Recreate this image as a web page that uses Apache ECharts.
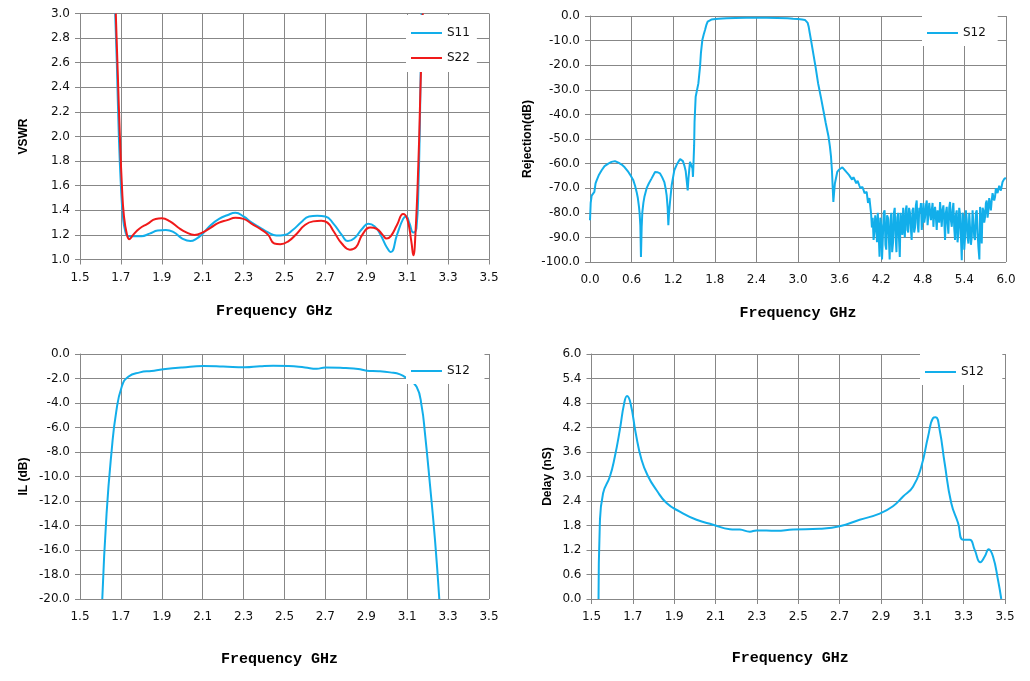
<!DOCTYPE html>
<html>
<head>
<meta charset="utf-8">
<script src="https://cdn.jsdelivr.net/npm/echarts@6/dist/echarts.min.js"></script>
<style>html,body{margin:0;padding:0;background:#fff}#c{width:1030px;height:681px}</style>
</head>
<body>
<div id="c"></div>
<script>
// ---- Data (frequency GHz, value) ----
const vswrS11 = [[1.672,3.0],[1.68,2.6],[1.69,2.0],[1.70,1.6],[1.71,1.35],[1.72,1.24],[1.735,1.19],[1.76,1.19],[1.80,1.19],[1.84,1.21],[1.88,1.235],[1.92,1.24],[1.96,1.22],[2.00,1.17],[2.04,1.15],[2.07,1.17],[2.10,1.21],[2.14,1.28],[2.18,1.33],[2.22,1.36],[2.26,1.38],[2.30,1.35],[2.34,1.30],[2.38,1.26],[2.42,1.22],[2.46,1.195],[2.50,1.20],[2.54,1.24],[2.58,1.30],[2.62,1.35],[2.66,1.355],[2.70,1.35],[2.74,1.29],[2.78,1.20],[2.81,1.15],[2.84,1.17],[2.88,1.25],[2.91,1.29],[2.94,1.27],[2.97,1.20],[3.00,1.10],[3.02,1.06],[3.05,1.20],[3.08,1.33],[3.095,1.35],[3.11,1.30],[3.13,1.22],[3.145,1.25],[3.155,1.6],[3.163,2.2],[3.17,3.0]];
const vswrS22 = [[1.675,3.0],[1.685,2.5],[1.695,2.0],[1.705,1.6],[1.715,1.35],[1.73,1.2],[1.741,1.165],[1.76,1.2],[1.79,1.25],[1.83,1.29],[1.87,1.33],[1.90,1.335],[1.94,1.31],[1.98,1.26],[2.02,1.22],[2.06,1.20],[2.10,1.22],[2.14,1.26],[2.18,1.30],[2.22,1.32],[2.26,1.34],[2.30,1.33],[2.34,1.29],[2.38,1.25],[2.42,1.20],[2.45,1.13],[2.48,1.125],[2.52,1.15],[2.56,1.21],[2.60,1.28],[2.64,1.31],[2.68,1.315],[2.71,1.30],[2.74,1.23],[2.78,1.13],[2.82,1.08],[2.85,1.10],[2.88,1.20],[2.92,1.26],[2.95,1.25],[2.98,1.20],[3.00,1.17],[3.02,1.19],[3.05,1.28],[3.08,1.37],[3.10,1.33],[3.12,1.15],[3.13,1.035],[3.14,1.2],[3.155,1.8],[3.165,2.4],[3.176,3.0]];

const rejS12 = [[0.0,-83],[0.01,-76],[0.024,-73],[0.04,-72.5],[0.063,-71.5],[0.08,-68],[0.096,-66.8],[0.13,-64.5],[0.168,-62.7],[0.21,-61],[0.264,-60],[0.31,-59.3],[0.36,-59],[0.41,-59.6],[0.457,-60.4],[0.5,-61.5],[0.553,-63.4],[0.59,-65],[0.625,-66.8],[0.65,-69],[0.673,-71.6],[0.69,-74],[0.707,-77.7],[0.715,-80],[0.726,-85],[0.735,-98],[0.745,-86],[0.755,-79.7],[0.77,-76],[0.784,-73.6],[0.817,-70],[0.85,-68],[0.889,-66],[0.938,-63.4],[0.97,-63.5],[1.01,-64],[1.04,-65.5],[1.072,-67.5],[1.09,-70],[1.106,-73],[1.12,-78],[1.13,-85],[1.14,-80],[1.154,-75.6],[1.178,-68.8],[1.216,-62.7],[1.25,-60.5],[1.274,-59.3],[1.3,-58.2],[1.322,-58],[1.34,-59],[1.36,-60.7],[1.38,-63],[1.395,-67],[1.409,-70.9],[1.42,-66],[1.442,-59.3],[1.466,-58.6],[1.478,-62],[1.485,-65.4],[1.49,-62],[1.495,-58],[1.502,-52.5],[1.508,-43],[1.524,-32.8],[1.563,-27.4],[1.587,-20.6],[1.60,-15],[1.62,-9.8],[1.64,-7.5],[1.659,-5.7],[1.68,-3.5],[1.697,-2.3],[1.72,-1.7],[1.75,-1.45],[1.779,-1.35],[1.85,-1.15],[1.97,-0.95],[2.1,-0.85],[2.25,-0.75],[2.4,-0.7],[2.55,-0.75],[2.7,-0.85],[2.85,-0.95],[2.93,-1.1],[3.0,-1.2],[3.06,-1.4],[3.1,-1.6],[3.125,-1.9],[3.14,-2.8],[3.155,-4.5],[3.17,-7],[3.195,-11],[3.22,-15.2],[3.255,-21],[3.29,-27.4],[3.33,-33],[3.365,-38.2],[3.40,-43.5],[3.44,-49],[3.46,-53],[3.476,-57.2],[3.49,-63],[3.5,-69.4],[3.51,-75.6],[3.52,-72],[3.532,-68.1],[3.566,-63.4],[3.59,-62.5],[3.615,-62],[3.64,-61.5],[3.663,-62],[3.70,-63.5],[3.737,-64.7],[3.75,-65],[3.78,-66.5],[3.80,-65.5],[3.84,-68],[3.86,-67],[3.883,-68.8],[3.90,-70],[3.93,-69.5],[3.96,-72],[3.99,-71.5],[4.01,-76],[4.03,-74],[4.054,-80.3],[4.066,-86],[4.078,-82],[4.09,-91],[4.102,-88],[4.114,-81],[4.127,-84.4],[4.139,-92],[4.151,-80],[4.163,-88],[4.176,-97.9],[4.188,-82],[4.2,-85],[4.212,-99],[4.224,-90],[4.236,-80],[4.249,-79],[4.261,-93],[4.273,-95],[4.285,-81],[4.298,-82],[4.31,-90],[4.322,-99],[4.334,-83],[4.346,-80],[4.358,-96],[4.371,-92],[4.383,-80],[4.395,-78],[4.407,-89],[4.42,-96],[4.432,-82],[4.444,-80],[4.456,-90],[4.468,-98],[4.48,-80],[4.493,-84],[4.505,-89],[4.517,-78],[4.529,-86],[4.541,-90],[4.553,-79],[4.566,-77],[4.578,-87],[4.59,-88],[4.602,-78],[4.615,-80],[4.627,-86],[4.639,-91],[4.651,-79],[4.663,-78],[4.675,-88],[4.688,-86],[4.70,-77],[4.712,-75],[4.724,-84],[4.737,-88],[4.749,-78],[4.761,-80],[4.773,-76],[4.785,-87],[4.797,-82],[4.809,-76],[4.821,-84],[4.833,-81.7],[4.845,-77],[4.857,-75],[4.869,-85],[4.881,-81],[4.893,-76],[4.905,-75.6],[4.917,-83],[4.929,-79],[4.941,-76],[4.953,-85.7],[4.965,-80],[4.977,-77.6],[4.989,-82],[5.001,-87],[5.013,-79],[5.025,-78.3],[5.037,-84],[5.049,-75.6],[5.061,-80],[5.073,-85.7],[5.085,-79],[5.097,-77],[5.109,-83],[5.121,-91],[5.133,-80],[5.145,-77.6],[5.157,-84],[5.169,-88.5],[5.181,-78],[5.193,-75.6],[5.205,-83],[5.218,-85.7],[5.23,-79],[5.241,-76],[5.253,-86],[5.265,-91],[5.277,-81],[5.289,-79],[5.301,-92],[5.313,-88.5],[5.325,-78],[5.337,-80.3],[5.35,-90],[5.362,-99.3],[5.374,-80],[5.386,-81.7],[5.398,-95],[5.41,-89.8],[5.422,-79],[5.434,-83],[5.446,-90],[5.458,-92.5],[5.47,-80],[5.482,-80.3],[5.494,-93],[5.506,-89.8],[5.518,-79],[5.53,-84.4],[5.542,-90],[5.554,-91],[5.566,-80],[5.578,-79],[5.59,-88],[5.602,-94],[5.616,-99],[5.626,-77.6],[5.638,-85],[5.65,-92.5],[5.662,-78],[5.674,-79],[5.686,-84],[5.698,-81.7],[5.71,-76],[5.722,-75],[5.734,-82],[5.746,-79],[5.758,-74],[5.77,-73.5],[5.782,-79],[5.794,-75],[5.806,-72],[5.818,-72.2],[5.83,-75],[5.842,-73.5],[5.854,-70],[5.866,-70.8],[5.878,-72],[5.89,-71.5],[5.902,-69],[5.914,-69.5],[5.926,-71],[5.938,-70.2],[5.95,-67.5],[5.962,-68],[5.977,-66.1],[6.0,-66]];

const ilS12 = [[1.609,-20],[1.630,-13.0],[1.655,-7.84],[1.676,-4.84],[1.704,-2.67],[1.736,-1.85],[1.793,-1.5],[1.85,-1.38],[1.907,-1.25],[2.0,-1.1],[2.103,-0.98],[2.2,-1.02],[2.306,-1.09],[2.38,-1.0],[2.445,-0.95],[2.52,-0.98],[2.6,-1.1],[2.657,-1.2],[2.7,-1.1],[2.8,-1.15],[2.86,-1.22],[2.902,-1.36],[2.96,-1.4],[3.016,-1.5],[3.065,-1.66],[3.098,-1.99],[3.146,-2.67],[3.171,-4.3],[3.187,-6.5],[3.211,-10.6],[3.236,-15.2],[3.257,-20]];

const delayS12 = [[1.534,0],[1.540,1.78],[1.556,2.59],[1.589,3.0],[1.613,3.49],[1.637,4.14],[1.658,4.79],[1.672,4.97],[1.689,4.79],[1.714,4.06],[1.742,3.41],[1.774,3.0],[1.814,2.67],[1.863,2.35],[1.927,2.14],[2.008,1.94],[2.088,1.82],[2.169,1.71],[2.217,1.70],[2.266,1.65],[2.298,1.68],[2.394,1.67],[2.475,1.70],[2.604,1.72],[2.70,1.78],[2.797,1.94],[2.894,2.09],[2.958,2.27],[3.007,2.51],[3.055,2.75],[3.095,3.24],[3.128,3.98],[3.152,4.43],[3.165,4.45],[3.184,4.14],[3.208,3.33],[3.240,2.35],[3.273,1.86],[3.297,1.45],[3.329,1.45],[3.353,1.21],[3.381,0.90],[3.402,1.04],[3.421,1.22],[3.442,1.04],[3.466,0.47],[3.482,0]];

// axis ranges [min, max, step]
const freqBand = [1.5, 3.5, 0.2];
const freqWide = [0, 6, 0.6];
const vswrRange = [1, 3, 0.2];
const rejRange = [-100, 0, 10];
const ilRange = [-20, 0, 2];
const delayRange = [0, 6, 0.6];

const BLUE = '#12aeea', RED = '#f01a1a', GRID = '#878787';
const LINE_ICON = 'path://M0,0L31,0L31,0.01L0,0.01Z M0,6L31,6L31,8L0,8Z M0,14L31,14L31,14.01L0,14.01Z';
const chart = echarts.init(document.getElementById('c'), null, {renderer: 'canvas'});
const fmt = v => v.toFixed(1);

function xAx(idx, r, gap, pad) {
  return {
    gridIndex: idx, type: 'value', min: r[0], max: r[1], interval: r[2],
    name: 'Frequency GHz', nameLocation: 'middle', nameGap: gap,
    nameTextStyle: {fontFamily: 'Liberation Mono', fontWeight: 'bold', fontSize: 15, color: '#000', padding: pad || 0},
    axisLine: {lineStyle: {color: GRID, width: 1}},
    axisTick: {show: true, length: 5, lineStyle: {color: GRID}},
    axisLabel: {formatter: fmt, fontFamily: 'DejaVu Sans', fontSize: 12, color: '#111', margin: 12},
    splitLine: {show: true, lineStyle: {color: GRID, width: 1}}
  };
}
function yAx(idx, r, name, gap) {
  return {
    gridIndex: idx, type: 'value', min: r[0], max: r[1], interval: r[2],
    name: name, nameLocation: 'middle', nameGap: gap, nameRotate: 90,
    nameTextStyle: {fontFamily: 'Liberation Sans', fontWeight: 'bold', fontSize: 12, color: '#000'},
    axisLine: {show: true, lineStyle: {color: GRID, width: 1}},
    axisTick: {show: true, length: 5, lineStyle: {color: GRID}},
    axisLabel: {formatter: fmt, fontFamily: 'DejaVu Sans', fontSize: 12, color: '#111', margin: 10},
    splitLine: {show: true, lineStyle: {color: GRID, width: 1}}
  };
}
function lg(names, left, top, pad) {
  return {
    data: names, left: left, top: top, orient: 'vertical', icon: LINE_ICON,
    backgroundColor: '#fff', padding: pad, itemWidth: 31, itemHeight: 14, itemGap: 11,
    textStyle: {fontFamily: 'DejaVu Sans', fontSize: 12, color: '#111'}
  };
}
function ser(name, xi, data, color, smooth) {
  return {
    name: name, type: 'line', xAxisIndex: xi, yAxisIndex: xi, data: data,
    showSymbol: false, symbol: 'none', smooth: smooth,
    lineStyle: {color: color, width: 2}, itemStyle: {color: color}, clip: true, animation: false
  };
}

chart.setOption({
  animation: false,
  backgroundColor: '#fff',
  grid: [
    {left: 80, top: 13.5, width: 409, height: 246},
    {left: 590, top: 16, width: 416, height: 246},
    {left: 80, top: 354, width: 409, height: 245},
    {left: 591.5, top: 354, width: 413.5, height: 245}
  ],
  xAxis: [xAx(0, freqBand, 44, [0, 20, 0, 0]), xAx(1, freqWide, 44), xAx(2, freqBand, 53, [0, 10, 0, 0]), xAx(3, freqBand, 52, [0, 16, 0, 0])],
  yAxis: [yAx(0, vswrRange, 'VSWR', 50), yAx(1, rejRange, 'Rejection(dB)', 56), yAx(2, ilRange, 'IL (dB)', 50), yAx(3, delayRange, 'Delay (nS)', 38)],
  legend: [
    lg([{name: 'S11', itemStyle: {color: BLUE}}, {name: 'S22', itemStyle: {color: RED}}], 406, 15, [11, 7, 7, 5]),
    lg(['S12 '], 922, 16, [10, 8, 6, 5]),
    lg(['S12  '], 406, 354, [10, 7, 6, 5]),
    lg(['S12   '], 920, 354, [11, 7, 6, 5])
  ],
  series: [
    ser('S11', 0, vswrS11, BLUE, 0.5),
    ser('S22', 0, vswrS22, RED, 0.5),
    ser('S12 ', 1, rejS12, BLUE, false),
    ser('S12  ', 2, ilS12, BLUE, 0.5),
    ser('S12   ', 3, delayS12, BLUE, 0.5)
  ]
});
</script>
</body>
</html>
